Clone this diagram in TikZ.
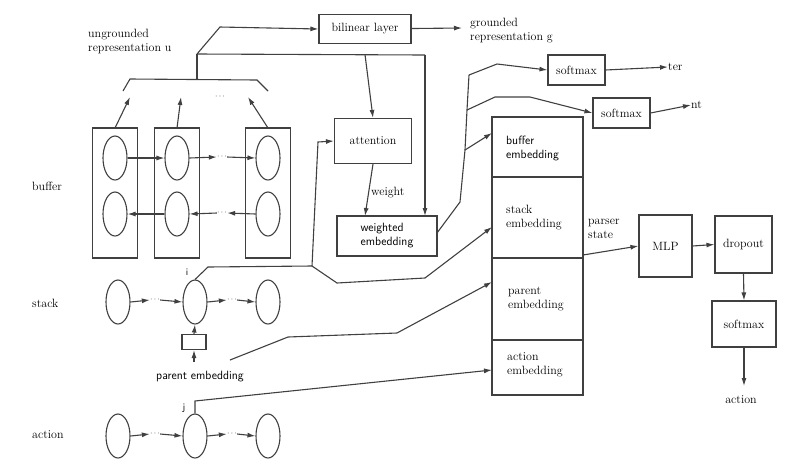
\documentclass[tikz,border=0pt]{standalone}
\usetikzlibrary{arrows.meta,shapes.geometric}
\begin{document}
\begin{tikzpicture}[x=1pt,y=-1pt,
  every node/.style={font=\fontsize{12}{14}\selectfont},
  ln/.style={draw=black!75,line width=1.1pt},
  ar/.style={ln,-{Latex[length=8pt,width=5pt]}},
  box/.style={draw=black!75,line width=1.1pt,inner sep=0pt},
  el/.style={ellipse,draw=black!75,line width=1.1pt,minimum width=24pt,minimum height=44pt,inner sep=0pt},
  lbl/.style={align=left,inner sep=0pt},
  dt/.style={inner sep=0pt,font=\fontsize{8}{8}\selectfont}]
\useasboundingbox (0,0) rectangle (812,475);
% labels
\node[lbl,anchor=west] (ulab) at (88,41) {ungrounded\\representation u};
\node[lbl,anchor=west] (glab) at (470,31) {grounded\\representation g};
\node[anchor=west,inner sep=0pt] (lbuf) at (32,186) {buffer};
\node[anchor=west,inner sep=0pt] (lstk) at (32,303) {stack};
\node[anchor=west,inner sep=0pt] (lact) at (32,435) {action};
% bilinear
\node[box,minimum width=92pt,minimum height=29pt] (bil) at (365,29) {bilinear layer};
\coordinate (bilout) at (462,28);
\draw[ar] (bil) -- (bilout);
% buffer columns
\foreach \n/\x in {1/115,2/177,3/268}{
  \node[box,minimum width=45pt,minimum height=130pt] (col\n) at (\x,193) {};
  \node[el] (t\n) at (\x,158) {};
  \node[el] (b\n) at (\x,214) {};
}
\node[dt] (tdots) at (222,157) {$\cdots$};
\node[dt] (bdots) at (222,213) {$\cdots$};
\node[dt] (udots) at (220,97) {$\cdots$};
\draw[ar] (t1) -- (t2);
\draw[ar] (t2.east) -- (tdots.west);
\draw[ar] (tdots.east) -- (t3.west);
\draw[ar] (b2) -- (b1);
\draw[ar] (bdots.west) -- (b2.east);
\draw[ar] (b3.west) -- (bdots.east);
% bracket
\coordinate (br1) at (123,91); \coordinate (br2) at (130,79);
\coordinate (br3) at (257,80); \coordinate (br4) at (268,91);
\coordinate (stem) at (197,80); \coordinate (junc) at (197,54);
\draw[ln] (br1) -- (br2) -- (br3) -- (br4);
\draw[ar] (115,128) -- (130,97);
\draw[ar] (177,128) -- (181,97);
\draw[ar] (268,128) -- (248,97);
\draw[ln] (stem) -- (junc);
\draw[ar] (junc) -- (220,27) -- (bil.west);
% attention & weighted embedding
\node[box,minimum width=77pt,minimum height=45pt] (att) at (373,141) {attention};
\node[box,minimum width=100pt,minimum height=40pt,font=\sffamily\fontsize{12}{14}\selectfont,align=left] (wemb) at (387,236) {weighted\\embedding};
\draw[ln] (junc) -- (425,55);
\draw[ar] (425,55) -- (425,216);
\draw[ar] (365,54.5) -- (att.north);
\draw[ar] (att.south) -- node[right,inner sep=2pt,pos=0.55] {weight} (365,216);
% big column
\node[box,minimum width=91pt,minimum height=278pt] (col) at (537.5,256) {};
\draw[ln] (492,177) -- (583,177);
\draw[ln] (492,258) -- (583,258);
\draw[ln] (492,340) -- (583,340);
\node[lbl,anchor=west,font=\sffamily\fontsize{12}{14}\selectfont] (bemb) at (506,148) {buffer\\embedding};
\node[lbl,anchor=west] (semb) at (506,218) {stack\\embedding};
\node[lbl,anchor=west] (pemb) at (508,299) {parent\\embedding};
\node[lbl,anchor=west] (aemb) at (507,365) {action\\embedding};
% softmaxes
\node[box,minimum width=57pt,minimum height=30pt] (sm1) at (576.5,70) {softmax};
\node[box,minimum width=57pt,minimum height=30pt] (sm2) at (621.5,113) {softmax};
\node[anchor=west,inner sep=0pt] (ter) at (668,67) {ter};
\node[anchor=west,inner sep=0pt] (nt) at (691,105) {nt};
\draw[ar] (sm1.east) -- (ter.west);
\draw[ar] (sm2.east) -- (nt.west);
\draw[ln] (437,233) -- (460,202) -- (465,150) -- (467,110) -- (469,75);
\draw[ar] (469,75) -- (497,64) -- (sm1.west);
\draw[ar] (467,110) -- (495,97) -- (530,97) -- (sm2.west);
\draw[ar] (465,150) -- (492,133);
% MLP etc
\node[box,minimum width=53pt,minimum height=62pt] (mlp) at (665.5,246) {MLP};
\node[box,minimum width=57pt,minimum height=57pt] (drop) at (743.5,244.5) {dropout};
\node[box,minimum width=64pt,minimum height=46pt] (sm3) at (744,324) {softmax};
\node[inner sep=0pt] (act) at (741,400) {action};
\node[lbl,anchor=west] (pst) at (588,229) {parser\\state};
\draw[ar] (583,255) -- (mlp.west);
\draw[ar] (mlp.east) -- (drop.west);
\draw[ar] (drop.south) -- (sm3.north);
\draw[ar] (sm3.south) -- (744,386);
% stack row
\node[el] (s1) at (118,302) {};
\node[el] (si) at (195,302) {};
\node[el] (s3) at (268,302) {};
\node[dt] (sd1) at (155,300) {$\cdots$};
\node[dt] (sd2) at (232,300) {$\cdots$};
\draw[ar] (s1.east) -- (sd1.west); \draw[ar] (sd1.east) -- (si.west);
\draw[ar] (si.east) -- (sd2.west); \draw[ar] (sd2.east) -- (s3.west);
\node[inner sep=0pt,font=\sffamily\fontsize{10}{10}\selectfont] (ilab) at (187,272) {i};
\node[box,minimum width=24pt,minimum height=15pt] (pbox) at (194,342) {};
\draw[ar] (pbox.north) -- (si.south);
\node[inner sep=0pt,font=\sffamily\fontsize{12}{14}\selectfont] (plab) at (200,377) {parent embedding};
\draw[ar] (194,362) -- (pbox.south);
\draw[ln] (si.north) -- (208,267) -- (312,266);
\draw[ar] (312,266) -- (318,142) -- (att.west);
\draw[ar] (312,266) -- (337,283) -- (425,278) -- (492,227);
\draw[ar] (230,360) -- (288,337) -- (397,333) -- (492,282);
% action row
\node[el] (a1) at (118,436) {};
\node[el] (aj) at (195,436) {};
\node[el] (a3) at (268,436) {};
\node[dt] (ad1) at (155,434) {$\cdots$};
\node[dt] (ad2) at (232,434) {$\cdots$};
\draw[ar] (a1.east) -- (ad1.west); \draw[ar] (ad1.east) -- (aj.west);
\draw[ar] (aj.east) -- (ad2.west); \draw[ar] (ad2.east) -- (a3.west);
\node[inner sep=0pt,font=\sffamily\fontsize{10}{10}\selectfont] (jlab) at (184,408) {j};
\draw[ar] (aj.north) -- (195,401) -- (492,370);
\end{tikzpicture}
\end{document}
